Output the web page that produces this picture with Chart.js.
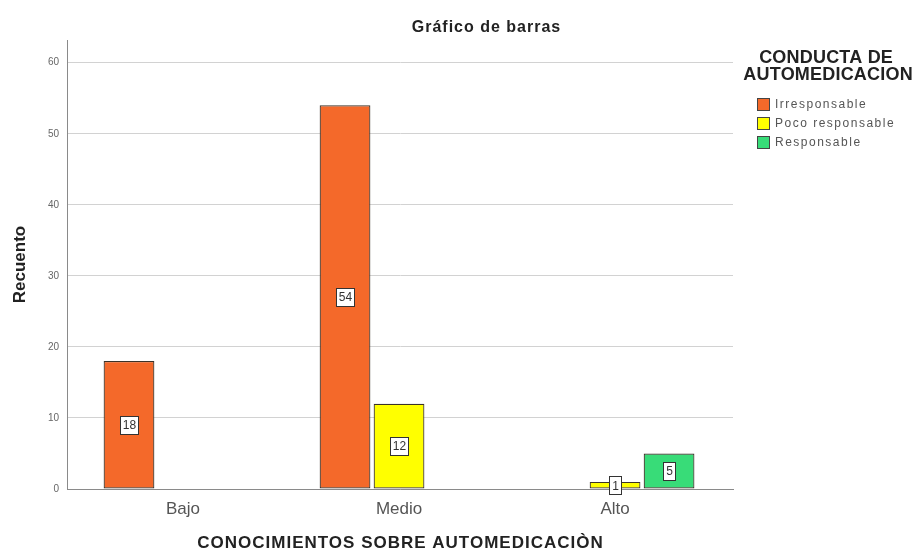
<!DOCTYPE html>
<html>
<head>
<meta charset="utf-8">
<script src="https://cdn.jsdelivr.net/npm/chart.js@4.4.1/dist/chart.umd.min.js"></script>
<style>
  html, body { margin: 0; padding: 0; background: #fff; }
  #wrap { width: 913px; height: 550px; }
</style>
</head>
<body>
<div id="wrap"><canvas id="chart" width="913" height="550"></canvas></div>
<script>
// categories and counts
const categories = ['Bajo', 'Medio', 'Alto'];
const seriesNames = ['Irresponsable', 'Poco responsable', 'Responsable'];
const irresponsable = [18, 54, 0];
const pocoResponsable = [0, 12, 1];
const responsable = [0, 0, 5];
const yTicks = [0, 10, 20, 30, 40, 50, 60];

const seriesValues = [irresponsable, pocoResponsable, responsable];
const seriesColors = ['#F4692A', '#FFFF00', '#38DC78'];
const FONT = '"Liberation Sans", Arial, sans-serif';

// empty cells are not drawn (SPSS leaves them out)
const datasets = seriesNames.map((name, s) => ({
    label: name,
    data: seriesValues[s].map((v, i) => ({ x: i, y: v === 0 ? null : v })),
    backgroundColor: seriesColors[s],
    borderColor: '#3b3228',
    borderWidth: 1.2,
    borderSkipped: false,
    categoryPercentage: 0.75,
    barPercentage: 0.94,
}));

// small helper: text with a bit of tracking, the SPSS export is stretched
function spacedText(ctx, text, x, y, font, spacing, color) {
    ctx.save();
    ctx.font = font;
    ctx.letterSpacing = spacing + 'px';
    ctx.fillStyle = color;
    ctx.textAlign = 'center';
    ctx.textBaseline = 'middle';
    ctx.fillText(text, x + spacing / 2, y);
    ctx.restore();
}

// chart title and x axis title
const titlesPlugin = {
    id: 'spssTitles',
    afterDraw(chart) {
        const ctx = chart.ctx;
        spacedText(ctx, 'Gráfico de barras', 486, 28, 'bold 16px ' + FONT, 1, '#222');
        const a = chart.chartArea;
        spacedText(ctx, 'CONOCIMIENTOS SOBRE AUTOMEDICACIÒN', (a.left + a.right) / 2, 543,
            'bold 17px ' + FONT, 1, '#222');
    },
};

// boxed count labels in the middle of every bar
const valueLabels = {
    id: 'valueLabels',
    afterDatasetsDraw(chart) {
        const ctx = chart.ctx;
        ctx.save();
        ctx.font = '12px ' + FONT;
        ctx.textAlign = 'center';
        ctx.textBaseline = 'middle';
        chart.data.datasets.forEach((ds, s) => {
            chart.getDatasetMeta(s).data.forEach((bar, i) => {
                const v = ds.data[i].y;
                if (v == null) return;
                const cy = (bar.y + bar.base) / 2;
                const w = Math.round(ctx.measureText(String(v)).width + 5);
                const h = 18;
                const bx = Math.round(bar.x - w / 2);
                const by = Math.round(cy - h / 2);
                ctx.fillStyle = '#fff';
                ctx.fillRect(bx, by, w, h);
                ctx.strokeStyle = '#333';
                ctx.lineWidth = 1;
                ctx.strokeRect(bx + 0.5, by + 0.5, w, h);
                ctx.fillStyle = '#333';
                ctx.fillText(String(v), bar.x + 0.5, cy + 1);
            });
        });
        ctx.restore();
    },
};

// legend with its two-line title at the right
const sideLegend = {
    id: 'sideLegend',
    afterDraw(chart) {
        const ctx = chart.ctx;
        spacedText(ctx, 'CONDUCTA DE', 826, 58.5, 'bold 18px ' + FONT, 0.2, '#222');
        spacedText(ctx, 'AUTOMEDICACION', 828, 75.5, 'bold 18px ' + FONT, 0.2, '#222');

        ctx.save();
        ctx.textAlign = 'left';
        ctx.textBaseline = 'middle';
        ctx.font = '12px ' + FONT;
        ctx.letterSpacing = '1.5px';
        seriesNames.forEach((name, s) => {
            const y = 104 + s * 19;
            ctx.fillStyle = seriesColors[s];
            ctx.fillRect(757, y - 6, 13, 13);
            ctx.strokeStyle = '#444';
            ctx.lineWidth = 1;
            ctx.strokeRect(757.5, y - 5.5, 12, 12);
            ctx.fillStyle = '#555';
            ctx.fillText(name, 775, y + 1);
        });
        ctx.restore();
    },
};

new Chart(document.getElementById('chart'), {
    type: 'bar',
    data: { datasets },
    options: {
        responsive: false,
        animation: false,
        layout: { padding: { top: 40, right: 180, left: 0, bottom: 0 } },
        plugins: {
            legend: { display: false },
            tooltip: { enabled: false },
            title: { display: false },
        },
        scales: {
            x: {
                type: 'linear',
                min: -0.537,
                max: 2.546,
                offset: false,
                afterFit(scale) { scale.height = 61; },
                afterBuildTicks(scale) {
                    scale.ticks = categories.map((c, i) => ({ value: i }));
                },
                ticks: {
                    autoSkip: false,
                    maxRotation: 0,
                    padding: 10,
                    color: '#555',
                    font: { family: FONT, size: 17 },
                    callback: (v) => categories[v],
                },
                grid: { display: false, drawTicks: false },
                border: { display: true, color: '#8a8a8a', width: 1 },
            },
            y: {
                min: 0,
                max: 63.2,
                afterFit(scale) { scale.width = 67; },
                afterBuildTicks(scale) {
                    scale.ticks = yTicks.map((v) => ({ value: v }));
                },
                ticks: {
                    padding: 8,
                    color: '#666',
                    font: { family: FONT, size: 10 },
                },
                grid: { color: '#d2d2d2', lineWidth: 1, drawTicks: false },
                border: { display: true, color: '#8a8a8a', width: 1 },
                title: {
                    display: true,
                    text: 'Recuento',
                    color: '#222',
                    font: { family: FONT, size: 17, weight: 'bold', lineHeight: 1.2 },
                    padding: { top: 10, bottom: 0 },
                },
            },
        },
    },
    plugins: [titlesPlugin, valueLabels, sideLegend],
});
</script>
</body>
</html>
